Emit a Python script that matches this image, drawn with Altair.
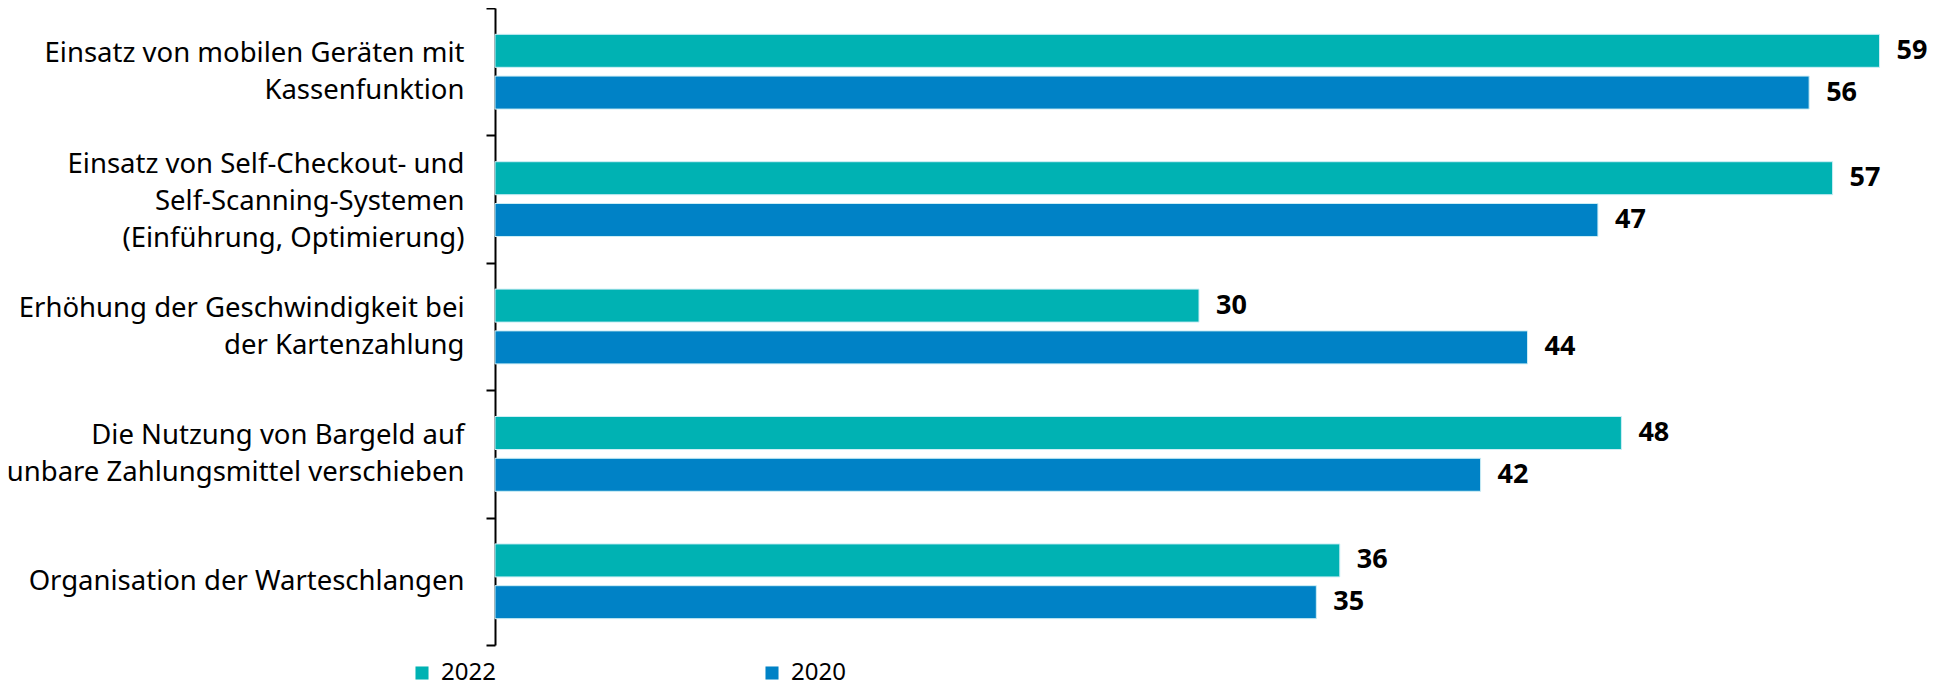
import altair as alt
import pandas as pd

categories = [
    "Einsatz von mobilen Geräten mit\nKassenfunktion",
    "Einsatz von Self-Checkout- und\nSelf-Scanning-Systemen\n(Einführung, Optimierung)",
    "Erhöhung der Geschwindigkeit bei\nder Kartenzahlung",
    "Die Nutzung von Bargeld auf\nunbare Zahlungsmittel verschieben",
    "Organisation der Warteschlangen",
]
series = ["2022", "2020"]
values_2022 = [59, 57, 30, 48, 36]
values_2020 = [56, 47, 44, 42, 35]
colors = ["#00B2B3", "#0082C6"]

rows = []
for c, a, b in zip(categories, values_2022, values_2020):
    rows.append({"cat": c, "year": "2022", "value": a})
    rows.append({"cat": c, "year": "2020", "value": b})
df = pd.DataFrame(rows)

FONT = "Noto Sans"
LH = 37

y = alt.Y(
    "cat:N",
    sort=categories,
    title=None,
    scale=alt.Scale(paddingInner=0, paddingOuter=0),
    axis=alt.Axis(
        labelExpr="split(datum.label, '\\n')",
        labelFont=FONT,
        labelFontSize=27.5,
        labelColor="#000000",
        labelLineHeight=LH,
        labelPadding=22,
        labelLimit=600,
        labelOffset={
            "condition": [
                {"test": "length(split(datum.value, '\\n')) == 3", "value": -LH + 2},
                {"test": "length(split(datum.value, '\\n')) == 2", "value": -LH / 2},
            ],
            "value": 0,
        },
        tickBand="extent",
        tickSize=9,
        tickColor="#000000",
        tickWidth=2,
        domainColor="#000000",
        domainWidth=2,
        grid=False,
    ),
)
yoff = alt.YOffset(
    "year:N",
    sort=series,
    scale=alt.Scale(paddingInner=0.21, paddingOuter=0.63),
)
x = alt.X("value:Q", scale=alt.Scale(domain=[0, 60]), axis=None)

bars = alt.Chart(df).mark_bar(stroke="#cdeef5", strokeWidth=1).encode(
    x=x,
    y=y,
    yOffset=yoff,
    color=alt.Color(
        "year:N",
        sort=series,
        scale=alt.Scale(domain=series, range=colors),
        legend=alt.Legend(
            title=None,
            orient="none",
            legendX=-85,
            legendY=653,
            direction="horizontal",
            symbolType="square",
            symbolSize=170,
            symbolStrokeWidth=0,
            labelFont=FONT,
            labelFontSize=24,
            labelColor="#000000",
            columnPadding=264,
            labelOffset=7,
        ),
    ),
)

labels = alt.Chart(df).mark_text(
    align="left", baseline="middle", dx=17, font=FONT, fontSize=27, fontWeight="bold", color="#000000"
).encode(
    x=x,
    y=alt.Y("cat:N", sort=categories),
    yOffset=yoff,
    text="value:Q",
)

chart = (
    alt.layer(bars, labels)
    .properties(
        width=1408,
        height=637,
        autosize=alt.AutoSizeParams(type="none"),
        padding={"left": 487, "top": 0, "right": 30, "bottom": 44},
    )
    .configure_view(stroke=None)
)

chart.save("out.html", embed_options={"renderer": "svg", "actions": False})
